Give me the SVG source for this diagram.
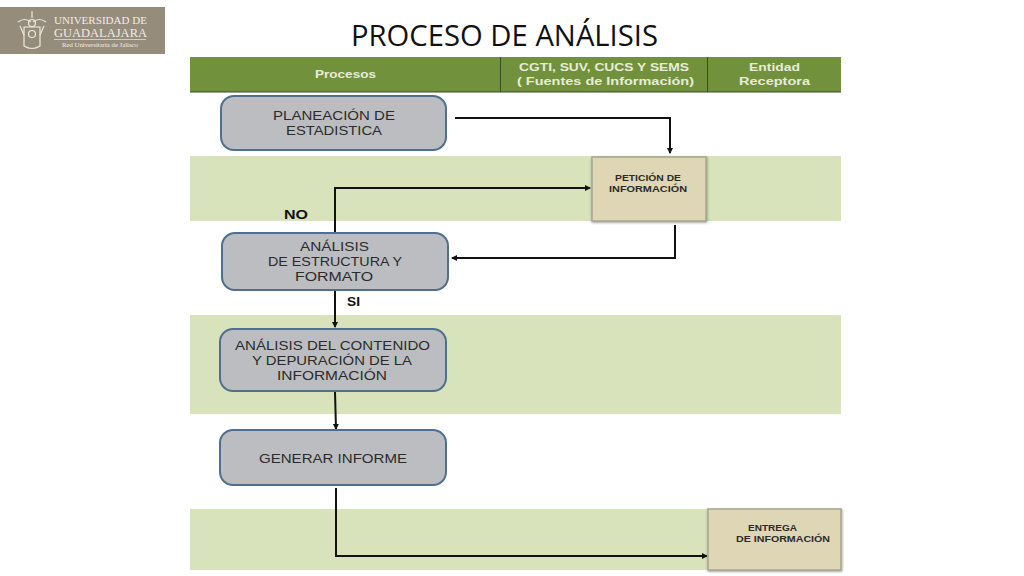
<svg xmlns="http://www.w3.org/2000/svg" width="1024" height="576" viewBox="0 0 1024 576">
<style>
.t{font-family:"Liberation Sans",Arial,sans-serif}
.h{font-size:11.5px;font-weight:bold;fill:#e6ecd8}
.n{fill:#bcbdc0;stroke:#4f6f8f;stroke-width:2}
.nt{font-family:"Liberation Sans",Arial,sans-serif;font-size:13px;fill:#2b2b2b}
.b{fill:#d8e3bb}
.s{fill:#dfd6b6;stroke:#a9a68f;stroke-width:1.5}
.st{font-size:9.5px;font-weight:bold;fill:#2b2b2b}
.c{fill:none;stroke:#111;stroke-width:2}
.lb{font-size:12.5px;font-weight:bold;fill:#111}
.lg{font-family:"Liberation Serif",serif;fill:#f1ede4}
</style>
<defs>
<marker id="a" markerWidth="7" markerHeight="7" refX="5" refY="3" orient="auto" markerUnits="userSpaceOnUse"><path d="M0,0L6,3L0,6z" fill="#111"/></marker>
<filter id="sh" x="-5%" y="-5%" width="110%" height="110%"><feDropShadow dx="0.5" dy="1" stdDeviation="1" flood-color="#555" flood-opacity=".6"/></filter>
</defs>
<rect width="1024" height="576" fill="#fff"/>
<g id="logo">
<rect x="0" y="7" width="165" height="47" fill="#968c7c"/>
<g fill="none" stroke="#eee9df" stroke-width="1.2">
<path d="M24,27V46Q32,51 40,46V27z"/><path d="M18,22Q25,17 31,22M33,22Q39,17 46,22"/><circle cx="32" cy="23" r="3.500"/><circle cx="32" cy="34" r="3.500"/><path d="M20,26L24,35M44,26L40,35M32,11V18"/>
</g>
<text class="lg" x="54" y="24" font-size="11" textLength="93" lengthAdjust="spacingAndGlyphs">UNIVERSIDAD DE</text>
<text class="lg" x="54" y="37" font-size="11.500" textLength="93" lengthAdjust="spacingAndGlyphs">GUADALAJARA</text>
<rect x="54" y="39" width="92" height=".7" fill="#eee9df"/>
<text class="lg" x="62" y="47" font-size="6.500" textLength="76" lengthAdjust="spacingAndGlyphs">Red Universitaria de Jalisco</text>
</g>
<text id="title" x="351" y="46" font-family="'Open Sans','Liberation Sans',sans-serif" font-size="29" fill="#111" textLength="307" lengthAdjust="spacingAndGlyphs">PROCESO DE ANÁLISIS</text>
<g id="table">
<rect x="190" y="57" width="651" height="35" fill="#72913c"/>
<path d="M190,92H841M500.500,57V92M707.500,57V92" stroke="#3c4a28" stroke-width="1" fill="none"/>
<rect class="b" x="190" y="156" width="651" height="65"/>
<rect class="b" x="190" y="315" width="651" height="99"/>
<rect class="b" x="190" y="509" width="651" height="61"/>
<text class="t h" x="315" y="78" textLength="61" lengthAdjust="spacingAndGlyphs">Procesos</text>
<text class="t h" x="519" y="71" textLength="170" lengthAdjust="spacingAndGlyphs">CGTI,  SUV, CUCS Y SEMS</text>
<text class="t h" x="517" y="85" textLength="177" lengthAdjust="spacingAndGlyphs">( Fuentes de Información)</text>
<text class="t h" x="749" y="71" textLength="51" lengthAdjust="spacingAndGlyphs">Entidad</text>
<text class="t h" x="739" y="85" textLength="71" lengthAdjust="spacingAndGlyphs">Receptora</text>
</g>
<g id="connectors">
<path class="c" d="M455,118H670V153" marker-end="url(#a)" stroke="#1f2f45"/>
<path class="c" d="M335,233V188H590" marker-end="url(#a)"/>
<path class="c" d="M675,225V258H452" marker-end="url(#a)"/>
<path class="c" d="M335,291V327" marker-end="url(#a)"/>
<path class="c" d="M335,392L336,429" marker-end="url(#a)"/>
<path class="c" d="M336,488V556H707" marker-end="url(#a)"/>
<text class="t lb" x="284" y="219" textLength="24" lengthAdjust="spacingAndGlyphs">NO</text>
<text class="t lb" x="347" y="306" textLength="13" lengthAdjust="spacingAndGlyphs">SI</text>
</g>
<g id="n1"><rect class="n" x="221" y="96" width="225" height="54" rx="13"/>
<text class="nt" x="273" y="120" textLength="122" lengthAdjust="spacingAndGlyphs">PLANEACIÓN DE</text><text class="nt" x="286" y="135" textLength="96" lengthAdjust="spacingAndGlyphs">ESTADISTICA</text></g>
<g id="n2"><rect class="n" x="222" y="233" width="226" height="57" rx="13"/>
<text class="nt" x="300" y="251" textLength="69" lengthAdjust="spacingAndGlyphs">ANÁLISIS</text><text class="nt" x="268" y="266" textLength="134" lengthAdjust="spacingAndGlyphs">DE ESTRUCTURA Y</text><text class="nt" x="295" y="281" textLength="78" lengthAdjust="spacingAndGlyphs">FORMATO</text></g>
<g id="n3"><rect class="n" x="220" y="329" width="226" height="62" rx="13"/>
<text class="nt" x="235" y="350" textLength="195" lengthAdjust="spacingAndGlyphs">ANÁLISIS DEL CONTENIDO</text><text class="nt" x="252" y="365" textLength="160" lengthAdjust="spacingAndGlyphs">Y DEPURACIÓN DE LA</text><text class="nt" x="277" y="380" textLength="110" lengthAdjust="spacingAndGlyphs">INFORMACIÓN</text></g>
<g id="n4"><rect class="n" x="220" y="430" width="226" height="55" rx="13"/>
<text class="nt" x="259" y="463" textLength="148" lengthAdjust="spacingAndGlyphs">GENERAR INFORME</text></g>
<g id="n5"><rect class="s" x="592" y="157" width="114" height="64" filter="url(#sh)"/>
<text class="t st" x="615" y="181" textLength="66" lengthAdjust="spacingAndGlyphs">PETICIÓN DE</text><text class="t st" x="609" y="192" textLength="78" lengthAdjust="spacingAndGlyphs">INFORMACIÓN</text></g>
<g id="n6"><rect class="s" x="708" y="509" width="133" height="61" filter="url(#sh)"/>
<text class="t st" x="748" y="531" textLength="49" lengthAdjust="spacingAndGlyphs">ENTREGA</text><text class="t st" x="736" y="542" textLength="94" lengthAdjust="spacingAndGlyphs">DE INFORMACIÓN</text></g>
</svg>
